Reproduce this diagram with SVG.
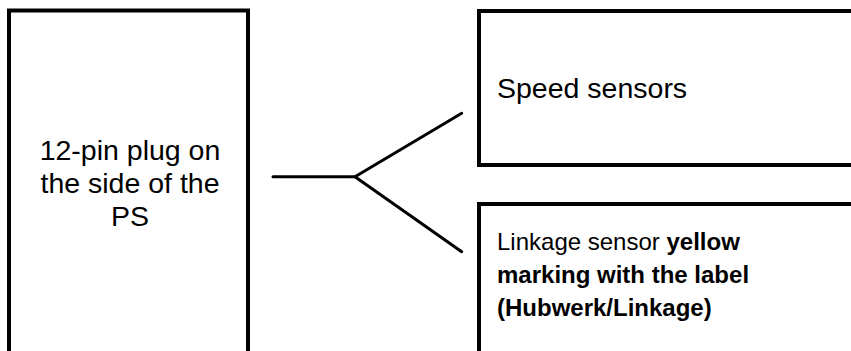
<svg xmlns="http://www.w3.org/2000/svg" width="851" height="351" viewBox="0 0 851 351">
<style>
.box{fill:#fff;stroke:#000;stroke-width:4}
.t{font-family:"Liberation Sans",Arial,sans-serif;fill:#000}
.wire{fill:none;stroke:#000;stroke-width:3;stroke-linecap:round;stroke-linejoin:round}
</style>
<rect width="851" height="351" fill="#fff"/>
<g id="plug">
<rect class="box" x="9" y="10.5" width="239" height="360"/>
<text class="t" font-size="28.5" text-anchor="middle"><tspan x="130" y="160">12-pin plug on</tspan><tspan x="130" y="193">the side of the</tspan><tspan x="130" y="226">PS</tspan></text>
</g>
<g id="speed">
<rect class="box" x="479" y="11" width="400" height="154"/>
<text class="t" font-size="28.5" x="497" y="98">Speed sensors</text>
</g>
<g id="linkage">
<rect class="box" x="479" y="204" width="400" height="170"/>
<text class="t" font-size="24"><tspan x="497" y="250">Linkage sensor <tspan font-weight="bold">yellow</tspan></tspan><tspan x="497" y="283" font-weight="bold">marking with the label</tspan><tspan x="497" y="316" font-weight="bold">(Hubwerk/Linkage)</tspan></text>
</g>
<g id="connectors">
<polyline class="wire" points="273,176.7 355,176.7"/>
<polyline class="wire" points="461.7,113.3 355,176.7 461.7,251.7"/>
</g>
</svg>
